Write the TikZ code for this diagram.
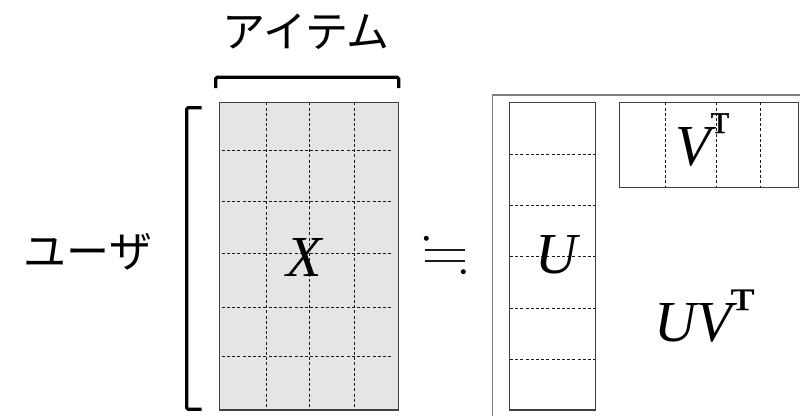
\documentclass[tikz,border=0pt]{standalone}
\usepackage{fontspec}
\setmainfont{Liberation Serif}
\newfontfamily\supfont[FakeBold=1.2]{Liberation Serif}
\newfontfamily\jpfont{Noto Sans CJK JP}
\begin{document}
\begin{tikzpicture}[x=1pt,y=-1pt,
  matbox/.style={draw=black!75, line width=1.3pt, anchor=north west, inner sep=0pt, outer sep=0pt},
  gridline/.style={black!90, line width=0.85pt, dash pattern=on 3pt off 2.2pt},
  bracketline/.style={black, line width=3.2pt, rounded corners=1.5pt},
  jplabel/.style={font=\jpfont\fontsize{43}{43}\selectfont, inner sep=0pt},
  letter/.style={font=\fontsize{58}{58}\selectfont\itshape, inner sep=0pt, anchor=base},
  suplabel/.style={font=\supfont, inner sep=0pt, anchor=base}
]
\useasboundingbox (0,0) rectangle (800,416);
\fill[white] (0,0) rectangle (800,416);

% outer frame of U V^T (continues beyond the picture)
\draw[black!50, line width=1.3pt] (492.3,416) -- (492.3,95) -- (800,95);

% X matrix
\node[matbox, fill=black!10, minimum width=179.4pt, minimum height=307.7pt] (xbox) at (219.3,102.3) {};
\foreach \xx in {266.7,309,354} \draw[gridline] (\xx,102.3) -- (\xx,410);
\foreach \yy in {150.7,201.3,253.3,307.7,356.7} \draw[gridline] (221.7,\yy) -- (391.7,\yy);
\draw[black!75, line width=1.3pt] (xbox.north west) rectangle (xbox.south east);
\node[letter] (xlab) at (304,276) {X};

% U matrix
\node[matbox, fill=white, minimum width=86.4pt, minimum height=307.7pt] (ubox) at (509.3,102.3) {};
\foreach \yy in {154.3,205.7,256,308,359} \draw[gridline] (510,\yy) -- (595,\yy);
\node[letter] (ulab) at (556,273) {U};

% V^T matrix
\node[matbox, fill=white, minimum width=179.2pt, minimum height=85.4pt] (vbox) at (619.3,102.3) {};
\foreach \xx in {665,716.7,760} \draw[gridline] (\xx,102.3) -- (\xx,187.7);
\node[letter] (vlab) at (693,165) {V};
\node[suplabel] (vsup) at (720,133) {\scalebox{3}{T}};

% product
\node[letter] (uvlab) at (693,341) {UV};
\node[suplabel] (uvsup) at (742.5,310) {\scalebox{3.9}[3.1]{T}};

% approximately equal sign
\draw[black!90, line width=1.8pt] (425,250) -- (465,250) (425,261) -- (465,261);
\fill[black] (426.3,238.3) circle (2.5pt) (463.3,271.7) circle (2.5pt);
\node[inner sep=0pt] (approx) at (445,255) {};

% brackets
\draw[bracketline] (215.7,88) -- (215.7,77.3) -- (398.7,77.3) -- (398.7,88);
\draw[bracketline] (201.7,107.7) -- (186.7,107.7) -- (186.7,409.3) -- (201.7,409.3);

% labels
\node[jplabel] (item) at (306,32) {アイテム};
\node[jplabel] (user) at (88,252) {ユーザ};
\end{tikzpicture}
\end{document}
